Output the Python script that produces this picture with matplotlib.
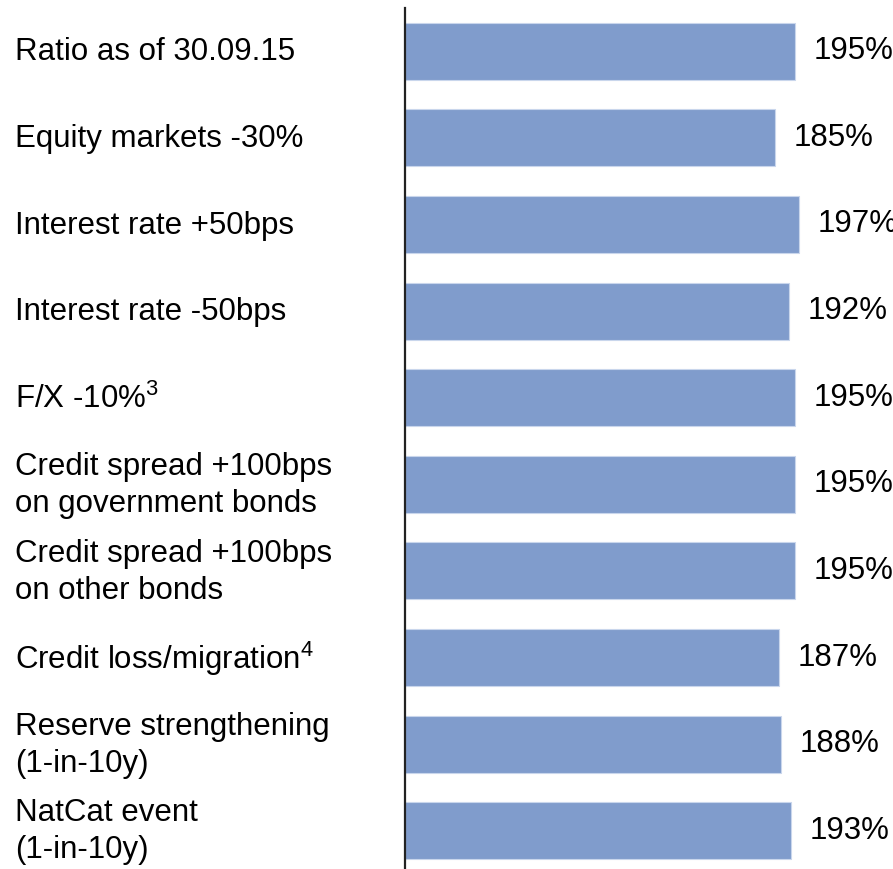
import matplotlib.pyplot as plt

plt.rcParams['font.family'] = ['Liberation Sans', 'DejaVu Sans']
plt.rcParams['mathtext.fontset'] = 'custom'
plt.rcParams['mathtext.rm'] = 'Liberation Sans'
plt.rcParams['mathtext.it'] = 'Liberation Sans'
plt.rcParams['mathtext.bf'] = 'Liberation Sans:bold'

labels = ['Ratio as of 30.09.15', 'Equity markets -30%', 'Interest rate +50bps',
          'Interest rate -50bps', 'F/X -10%$^{3}$',
          'Credit spread +100bps\non government bonds',
          'Credit spread +100bps\non other bonds',
          'Credit loss/migration$^{4}$',
          'Reserve strengthening\n(1-in-10y)', 'NatCat event\n(1-in-10y)']
values = [195, 185, 197, 192, 195, 195, 195, 187, 188, 193]

W, H = 893, 869
fig = plt.figure(figsize=(W / 100, H / 100), dpi=100)
# axes: left edge at the vertical line, top at y=8px, bottom slightly below the image
ax = fig.add_axes([405 / W, -5 / H, (W - 405) / W, 866 / H])

y = list(range(len(values)))
ax.barh(y, values, height=0.66, color='#809CCC', edgecolor='#C9D6EC', linewidth=0.8, zorder=2)
ax.set_ylim(len(values) - 0.5, -0.5)
ax.set_xlim(0, (W - 405) / 2)

for yi, v in zip(y, values):
    ax.text(v + 9.5, yi, f'{v}%', va='center', ha='left', fontsize=22.5, color='black', clip_on=False)

for yi, lab in zip(y, labels):
    fig.text(15 / W, 1 - (8 + 44.5 + yi * 86.6) / H, lab, va='center', ha='left',
             fontsize=22.5, color='black', linespacing=1.3)

for s in ['top', 'right', 'bottom']:
    ax.spines[s].set_visible(False)
ax.spines['left'].set_linewidth(1.6)
ax.spines['left'].set_color('#222222')
ax.set_xticks([])
ax.set_yticks([])

fig.savefig('out.png', dpi=100)
